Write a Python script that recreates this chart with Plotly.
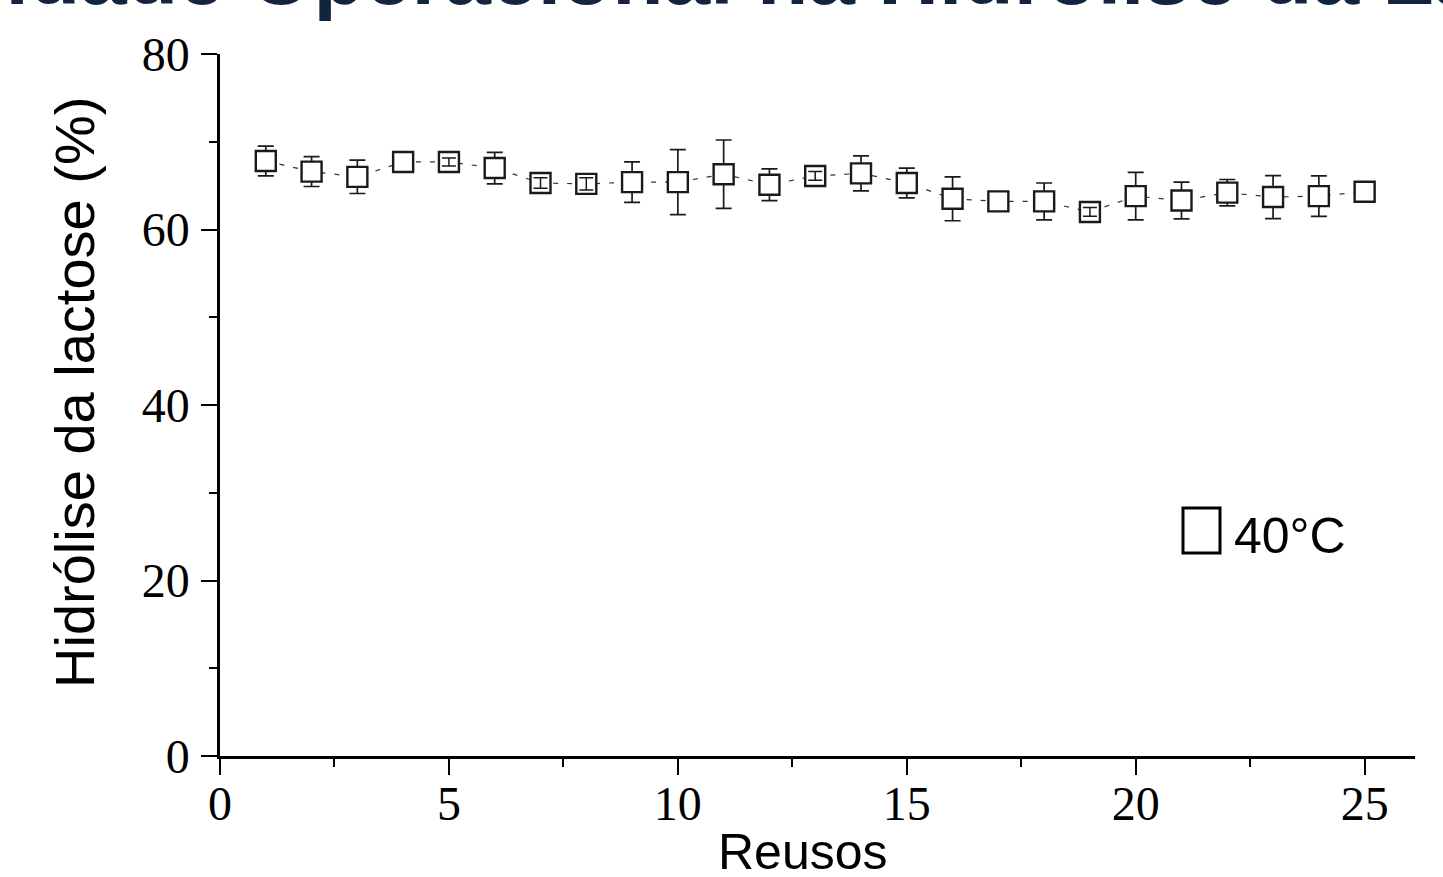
import plotly.graph_objects as go

# ---- data ----
reusos = list(range(1, 26))
hidrolise = [67.8, 66.6, 66.0, 67.7, 67.7, 67.0, 65.3, 65.2, 65.4, 65.4,
             66.3, 65.1, 66.1, 66.4, 65.3, 63.5, 63.2, 63.2, 62.0, 63.8,
             63.3, 64.2, 63.7, 63.8, 64.3]
erro = [1.7, 1.7, 1.9, 0.3, 0.45, 1.8, 0.6, 0.7, 2.3, 3.7,
        3.9, 1.8, 0.5, 2.0, 1.7, 2.5, 0.3, 2.1, 0.5, 2.7,
        2.1, 1.5, 2.45, 2.3, 0.3]
x_ticks = [0, 5, 10, 15, 20, 25]
y_ticks = [0, 20, 40, 60, 80]
serie_nome = "40°C"
titulo = "Estabilidade Operacional na Hidrólise da Lactose"
x_titulo = "Reusos"
y_titulo = "Hidrólise da lactose (%)"

# ---- layout geometry (pixels) ----
W, H = 1443, 877
L, R, T, B = 220, 28, 54, 121
pw, ph = W - L - R, H - T - B

def px(xp):
    return (xp - L) / pw

def py(yp):
    return (H - B - yp) / ph

ink = "#1a1a1a"

# points whose error bar lies inside the marker box (drawn on top, as in the original)
small = [i for i, e in enumerate(erro) if 0.4 <= e < 1.0]

fig = go.Figure()
fig.add_trace(go.Scatter(
    x=reusos, y=hidrolise, mode="lines",
    line=dict(color="#333333", width=1.2, dash="5px,9px"),
    showlegend=False, hoverinfo="skip"))
fig.add_trace(go.Scatter(
    x=reusos, y=hidrolise, mode="markers", name=serie_nome,
    marker=dict(symbol="square", size=20, color="white",
                line=dict(color=ink, width=2.4)),
    error_y=dict(type="data", array=erro, visible=True,
                 color=ink, thickness=1.7, width=8),
    showlegend=False))
fig.add_trace(go.Scatter(
    x=[reusos[i] for i in small], y=[hidrolise[i] for i in small],
    mode="markers", marker=dict(size=1, opacity=0),
    error_y=dict(type="data", array=[erro[i] for i in small], visible=True,
                 color=ink, thickness=1.5, width=7),
    showlegend=False, hoverinfo="skip"))

axis_common = dict(
    showline=True, linecolor="black", linewidth=2.5,
    ticks="outside", ticklen=16, tickwidth=2, tickcolor="black",
    showgrid=False, zeroline=False, mirror=False,
    tickfont=dict(family="Liberation Serif, Times New Roman, serif",
                  size=48, color="black"),
)

fig.update_layout(
    width=W, height=H, autosize=False,
    margin=dict(l=L, r=R, t=T, b=B, pad=0),
    paper_bgcolor="white", plot_bgcolor="white",
    xaxis=dict(range=[0, 26.1], tickvals=x_ticks,
               minor=dict(dtick=2.5, tick0=0, ticks="outside", ticklen=8,
                          tickwidth=2, tickcolor="black"),
               ticklabelstandoff=-12, **axis_common),
    yaxis=dict(range=[0, 80], tickvals=y_ticks,
               minor=dict(dtick=10, tick0=0, ticks="outside", ticklen=8,
                          tickwidth=2, tickcolor="black"),
               ticklabelstandoff=2, **axis_common),
    shapes=[dict(type="rect", xref="paper", yref="paper",
                 x0=px(1183), x1=px(1220), y0=py(553), y1=py(508),
                 line=dict(color="black", width=3), fillcolor="white")],
    annotations=[
        dict(text=serie_nome, xref="paper", yref="paper",
             x=px(1232), y=py(536), xanchor="left", yanchor="middle",
             showarrow=False,
             font=dict(family="Liberation Sans, Arial, sans-serif",
                       size=50, color="black")),
        dict(text=x_titulo, xref="paper", yref="paper",
             x=px(803), y=py(852), xanchor="center", yanchor="middle",
             showarrow=False,
             font=dict(family="Liberation Sans, Arial, sans-serif",
                       size=50, color="black")),
        dict(text=y_titulo, xref="paper", yref="paper", textangle=-90,
             x=px(75), y=py(393), xanchor="center", yanchor="middle",
             showarrow=False,
             font=dict(family="Liberation Sans, Arial, sans-serif",
                       size=56, color="black")),
        dict(text="<b>" + titulo + "</b>", xref="paper", yref="paper",
             x=px(715), y=py(24), xanchor="center", yanchor="bottom",
             showarrow=False,
             font=dict(family="Liberation Sans, Arial, sans-serif",
                       size=84, color="#13243f")),
    ],
)

fig.write_html("out.html", config={"displayModeBar": False},
               post_script="document.body.style.margin='0';document.body.style.overflow='hidden';")
